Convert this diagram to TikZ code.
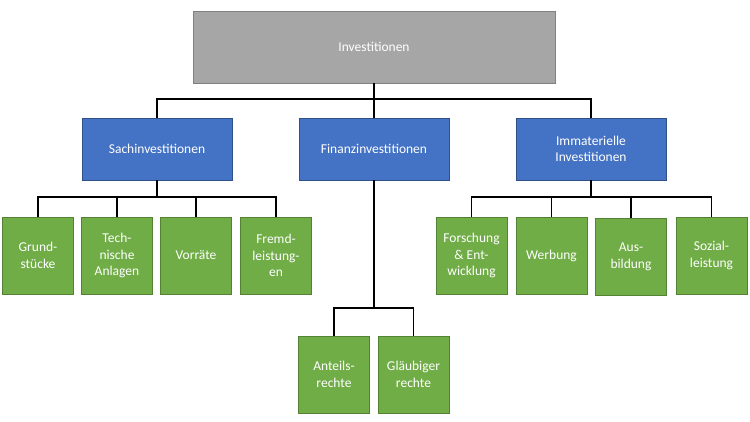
\documentclass[tikz,border=0pt]{standalone}
\usepackage{fontspec}
\setmainfont{Carlito}
\usepackage{tikz}
\definecolor{topgray}{HTML}{A6A6A6}
\definecolor{catblue}{HTML}{4472C4}
\definecolor{leafgreen}{HTML}{70AD47}
\tikzset{
  topbox/.style = {draw = gray, fill = topgray, minimum width = 362pt, minimum height = 72pt},
  catbox/.style = {draw = catblue!70!black, fill = catblue, minimum width = 150pt, minimum height = 62pt},
  leafbox/.style = {draw = leafgreen!75!black, fill = leafgreen, minimum width = 71pt, minimum height = 77pt},
  link/.style = {draw, line width = 1.8pt}
}
\begin{document}
\begin{tikzpicture}[x = 1pt, y = -1pt, every node/.style = {text = white, align = center, inner sep = 2pt, font = \fontsize{13.5}{16.7}\selectfont}]
\useasboundingbox (0, 0) rectangle (750, 422);
%\draw[very thin, color = gray](0, 0) grid [step = 50] (750, 422);
\node [topbox] (invest) at (374, 47) {Investitionen};
\node [catbox] (sach) at (157, 149) {Sachinvestitionen};
\node [catbox] (finanz) at (374, 149) {Finanzinvestitionen};
\node [catbox] (immat) at (591, 149) {Immaterielle\\Investitionen};
\node [leafbox] (grund) at (38, 255.5) {Grund-\\stücke};
\node [leafbox] (technik) at (117, 255.5) {Tech-\\nische\\Anlagen};
\node [leafbox] (vorrat) at (196, 255.5) {Vorräte};
\node [leafbox] (fremd) at (276, 255.5) {Fremd-\\leistung-\\en};
\node [leafbox] (forsch) at (471.5, 255.5) {Forschung\\\& Ent-\\wicklung};
\node [leafbox] (werbung) at (551.5, 255.5) {Werbung};
\node [leafbox] (ausbild) at (631, 256.5) {Aus-\\bildung};
\node [leafbox] (sozial) at (711.5, 255.5) {Sozial-\\leistung};
\node [leafbox] (anteil) at (334, 374.5) {Anteils-\\rechte};
\node [leafbox] (glaub) at (413.5, 374.5) {Gläubiger\\rechte};
\coordinate (bustop) at (374, 99);
\coordinate (bussach) at (157, 197);
\coordinate (busimmat) at (591, 197);
\coordinate (busfinanz) at (374, 308);
\draw [link] (invest.south) -- (bustop) -| (sach.north);
\draw [link] (bustop) -| (immat.north);
\draw [link] (invest.south) -- (finanz.north);
\draw [link] (sach.south) -- (bussach);
\foreach \leaf in {grund, technik, vorrat, fremd}
  \draw [link] (bussach) -| (\leaf.north);
\draw [link] (immat.south) -- (busimmat);
\foreach \leaf in {forsch, werbung, ausbild, sozial}
  \draw [link] (busimmat) -| (\leaf.north);
\draw [link] (finanz.south) -- (busfinanz);
\draw [link] (busfinanz) -| (anteil.north);
\draw [link] (busfinanz) -| (glaub.north);
\end{tikzpicture}
\end{document}
